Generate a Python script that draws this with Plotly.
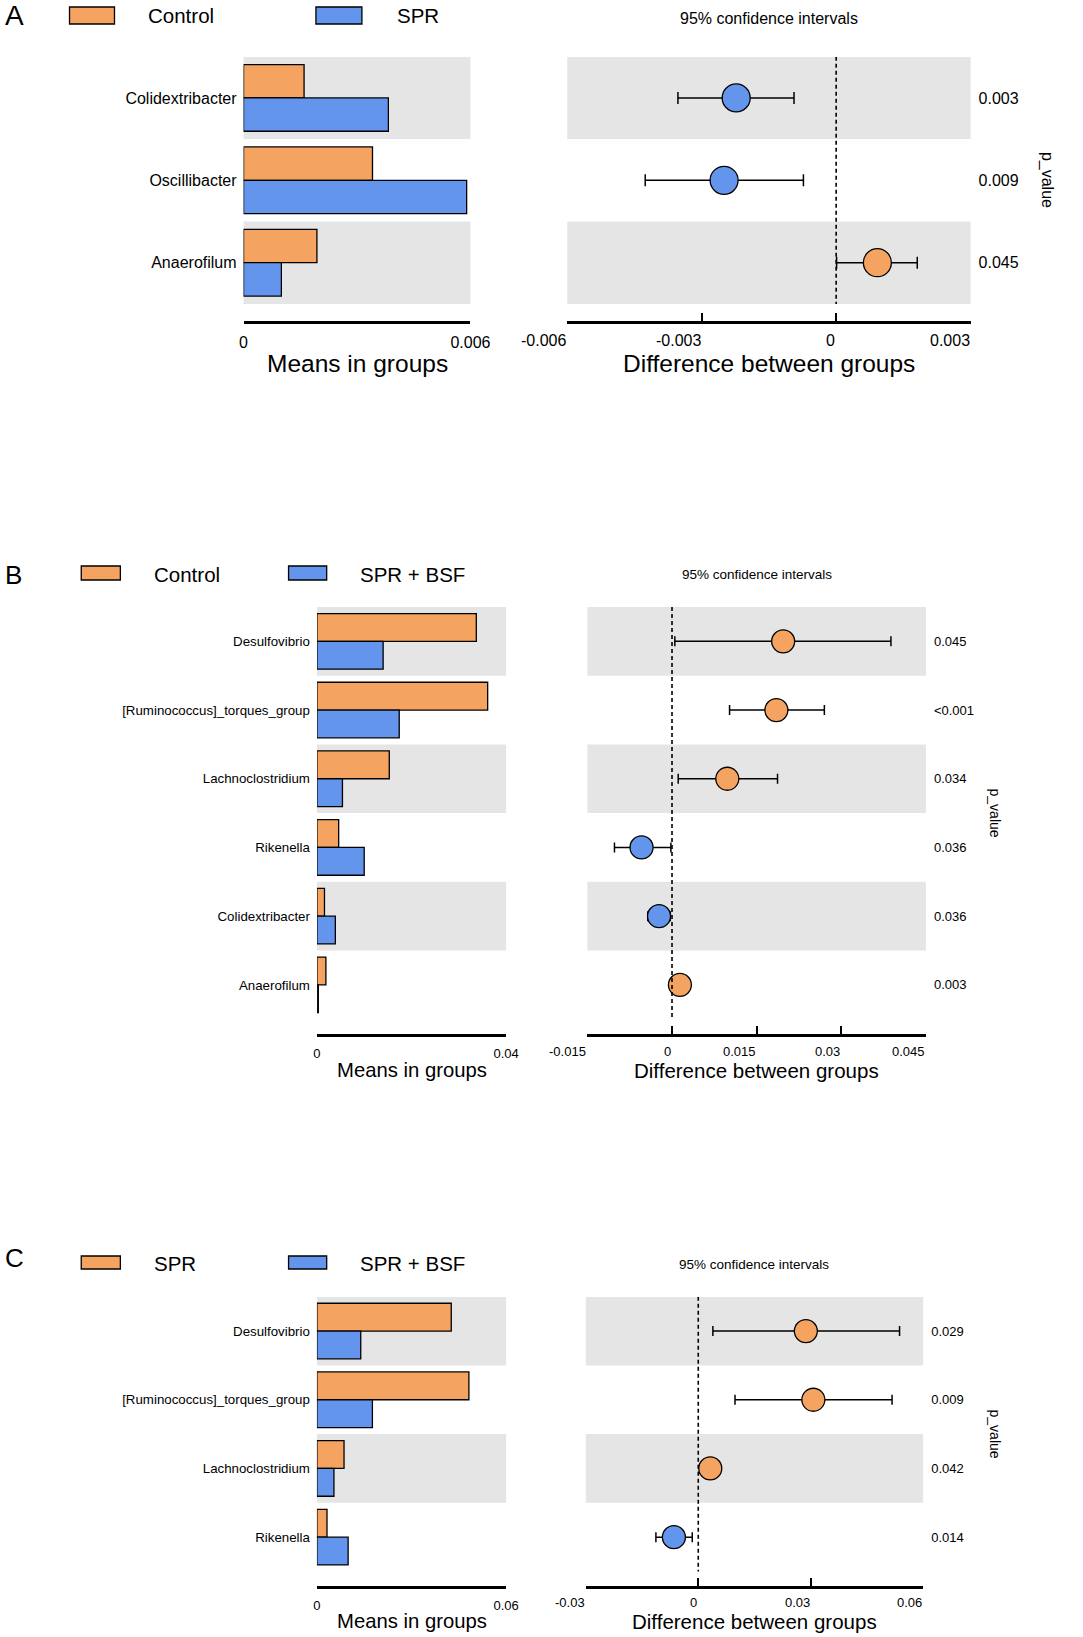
import plotly.graph_objects as go

W, H = 1083, 1637
FONT = "Liberation Sans, Arial, sans-serif"
ORANGE = "#F4A460"
BLUE = "#6495ED"
GRAY = "#E5E5E5"

# ---- panel A data ----
a_taxa = ["Colidextribacter", "Oscillibacter", "Anaerofilum"]
a_groups = ["Control", "SPR"]
a_mean_1 = [0.0016, 0.00341, 0.00194]
a_mean_2 = [0.00383, 0.0059, 0.0010]
a_diff = [-0.00223, -0.0025, 0.00092]
a_low = [-0.00353, -0.00426, 0.00001]
a_high = [-0.00094, -0.00073, 0.00181]
a_p = ["0.003", "0.009", "0.045"]
a_left_ticks = [0, 0.006]
a_left_labels = ["0", "0.006"]
a_right_ticks = [-0.006, -0.003, 0, 0.003]
a_right_labels = ["-0.006", "-0.003", "0", "0.003"]

# ---- panel B data ----
b_taxa = ["Desulfovibrio", "[Ruminococcus]_torques_group", "Lachnoclostridium",
          "Rikenella", "Colidextribacter", "Anaerofilum"]
b_groups = ["Control", "SPR + BSF"]
b_mean_1 = [0.0337, 0.0361, 0.0153, 0.0046, 0.0016, 0.0019]
b_mean_2 = [0.0140, 0.0174, 0.0054, 0.0100, 0.0039, 0.0003]
b_diff = [0.0197, 0.0185, 0.0098, -0.0054, -0.0023, 0.0014]
b_low = [0.0005, 0.0102, 0.0011, -0.0102, -0.0043, 0.0004]
b_high = [0.0388, 0.0270, 0.0187, -0.0002, -0.0003, 0.0031]
b_p = ["0.045", "<0.001", "0.034", "0.036", "0.036", "0.003"]
b_left_ticks = [0, 0.04]
b_left_labels = ["0", "0.04"]
b_right_ticks = [-0.015, 0, 0.015, 0.03, 0.045]
b_right_labels = ["-0.015", "0", "0.015", "0.03", "0.045"]

# ---- panel C data ----
c_taxa = ["Desulfovibrio", "[Ruminococcus]_torques_group", "Lachnoclostridium", "Rikenella"]
c_groups = ["SPR", "SPR + BSF"]
c_mean_1 = [0.0426, 0.0482, 0.0086, 0.0032]
c_mean_2 = [0.0139, 0.0176, 0.0054, 0.0099]
c_diff = [0.0287, 0.0307, 0.0032, -0.0065]
c_low = [0.0039, 0.0098, 0.0004, -0.0113]
c_high = [0.0537, 0.0517, 0.0058, -0.0016]
c_p = ["0.029", "0.009", "0.042", "0.014"]
c_left_ticks = [0, 0.06]
c_left_labels = ["0", "0.06"]
c_right_ticks = [-0.03, 0, 0.03, 0.06]
c_right_labels = ["-0.03", "0", "0.03", "0.06"]


def fx(p):
    return p / W


def fy(p):
    return 1 - p / H


def sfx(i):
    return "" if i == 1 else str(i)


# layout in pixels for each panel
panels = [
    dict(letter="A", taxa=a_taxa, groups=a_groups, m1=a_mean_1, m2=a_mean_2,
         diff=a_diff, lo=a_low, hi=a_high, p=a_p,
         lt=a_left_ticks, ll=a_left_labels, rt=a_right_ticks, rl=a_right_labels,
         lx=(245, 477), rx=(576, 988.5), top=56.7, row=82.4, axis=320.7,
         letter_y=15.5, letter_size=28, box_x=[(67, 113), (319, 366)], box_y=(7, 24),
         text_x=[145, 400], text_y=15, leg_size=20.5, ci_y=18, ci_size=16,
         row_size=16, tick_size=16, tick_y=340.7, pv_x=1066, pv_size=16,
         title_y=363, means_size=24.5, diff_size=24.5, marker=28, cap=6),
    dict(letter="B", taxa=b_taxa, groups=b_groups, m1=b_mean_1, m2=b_mean_2,
         diff=b_diff, lo=b_low, hi=b_high, p=b_p,
         lt=b_left_ticks, ll=b_left_labels, rt=b_right_ticks, rl=b_right_labels,
         lx=(320, 513.5), rx=(596.6, 942.8), top=607, row=68.7, axis=1034,
         letter_y=575, letter_size=26, box_x=[(79, 119), (291, 330)], box_y=(566, 580),
         text_x=[151, 362], text_y=574, leg_size=20.5, ci_y=574, ci_size=13.5,
         row_size=13.3, tick_size=13, tick_y=1051, pv_x=1013, pv_size=14,
         title_y=1070, means_size=20.3, diff_size=20.5, marker=23, cap=5),
    dict(letter="C", taxa=c_taxa, groups=c_groups, m1=c_mean_1, m2=c_mean_2,
         diff=c_diff, lo=c_low, hi=c_high, p=c_p,
         lt=c_left_ticks, ll=c_left_labels, rt=c_right_ticks, rl=c_right_labels,
         lx=(320, 513.5), rx=(595, 940), top=1296.7, row=68.7, axis=1586,
         letter_y=1258, letter_size=26, box_x=[(79, 119), (291, 330)], box_y=(1256, 1269),
         text_x=[151, 362], text_y=1263, leg_size=20.5, ci_y=1264, ci_size=13.5,
         row_size=13.3, tick_size=13, tick_y=1602, pv_x=1013, pv_size=14,
         title_y=1621, means_size=20.3, diff_size=20.5, marker=23, cap=5),
]

fig = go.Figure()
# width left to autosize so the figure fills the page width
layout = dict(height=H, autosize=True, margin=dict(l=0, r=0, t=0, b=0, pad=0),
              paper_bgcolor="white", plot_bgcolor="white", showlegend=False,
              barmode="group", bargap=0.19, bargroupgap=0,
              font=dict(family=FONT, color="black"))
shapes = []
annotations = []

for k, pn in enumerate(panels):
    li, ri = 2 * k + 1, 2 * k + 2
    lxa, lya = "x" + sfx(li), "y" + sfx(li)
    rxa, rya = "x" + sfx(ri), "y" + sfx(ri)
    n = len(pn["taxa"])
    gap = (pn["axis"] - (pn["top"] + n * pn["row"])) / pn["row"]
    yrange = [n - 0.5 + gap, -0.5]
    ydom = [fy(pn["axis"]), fy(pn["top"])]

    # bars: means in groups
    fig.add_trace(go.Bar(x=pn["m1"], y=pn["taxa"], orientation="h", name=pn["groups"][0],
                         marker=dict(color=ORANGE, line=dict(color="black", width=1.3)),
                         xaxis=lxa, yaxis=lya))
    fig.add_trace(go.Bar(x=pn["m2"], y=pn["taxa"], orientation="h", name=pn["groups"][1],
                         marker=dict(color=BLUE, line=dict(color="black", width=1.3)),
                         xaxis=lxa, yaxis=lya))

    # difference with 95% CI
    colors = [ORANGE if d > 0 else BLUE for d in pn["diff"]]
    fig.add_trace(go.Scatter(
        x=pn["diff"], y=pn["taxa"], mode="markers",
        marker=dict(size=pn["marker"], color=colors, line=dict(color="black", width=1.3)),
        error_x=dict(type="data", symmetric=False,
                     array=[h - d for h, d in zip(pn["hi"], pn["diff"])],
                     arrayminus=[d - l for d, l in zip(pn["diff"], pn["lo"])],
                     color="black", thickness=1.5, width=pn["cap"]),
        xaxis=rxa, yaxis=rya))

    axis_common = dict(showgrid=False, zeroline=False, showline=True, linecolor="black",
                       linewidth=2.8, ticks="inside", ticklen=8, tickwidth=1.5,
                       tickcolor="black")
    layout["xaxis" + sfx(li)] = dict(axis_common, domain=[fx(pn["lx"][0]), fx(pn["lx"][1])],
                                     anchor=lya, range=[pn["lt"][0], pn["lt"][-1]],
                                     tickvals=pn["lt"], ticktext=pn["ll"],
                                     tickfont=dict(size=pn["tick_size"]), ticklabelstandoff=5)
    layout["xaxis" + sfx(ri)] = dict(axis_common, domain=[fx(pn["rx"][0]), fx(pn["rx"][1])],
                                     anchor=rya, range=[pn["rt"][0], pn["rt"][-1]],
                                     tickvals=pn["rt"], showticklabels=False)
    ycommon = dict(domain=ydom, range=yrange, type="category", categoryorder="array",
                   categoryarray=pn["taxa"], showgrid=False, zeroline=False,
                   showline=False, ticks="")
    layout["yaxis" + sfx(li)] = dict(ycommon, anchor=lxa, tickfont=dict(size=pn["row_size"]),
                                     ticklabelstandoff=6)
    layout["yaxis" + sfx(ri)] = dict(ycommon, anchor=rxa, side="right",
                                     tickvals=pn["taxa"], ticktext=pn["p"],
                                     tickfont=dict(size=pn["tick_size"]), ticklabelstandoff=7)

    # shaded alternate rows
    for i in range(0, n, 2):
        for xa, ya in ((lxa, lya), (rxa, rya)):
            shapes.append(dict(type="rect", xref=xa + " domain", yref=ya, x0=0, x1=1,
                               y0=i - 0.5, y1=i + 0.5, fillcolor=GRAY,
                               line=dict(width=0), layer="below"))
    # zero line
    shapes.append(dict(type="line", xref=rxa, yref=rya, x0=0, x1=0, y0=-0.5, y1=n - 0.5,
                       line=dict(color="black", width=1.6, dash="4px,3px")))

    # right axis tick labels, right aligned to the ticks
    for v, t in zip(pn["rt"], pn["rl"]):
        annotations.append(dict(x=v, xref=rxa, y=fy(pn["tick_y"]), yref="paper", text=t,
                                showarrow=False, xanchor="right", yanchor="middle",
                                xshift=1, font=dict(size=pn["tick_size"])))

    # axis titles
    annotations.append(dict(x=0.5, xref=lxa + " domain", y=fy(pn["title_y"]), yref="paper",
                            text="Means in groups", showarrow=False, xanchor="center",
                            yanchor="middle", font=dict(size=pn["means_size"])))
    annotations.append(dict(x=0.5, xref=rxa + " domain", y=fy(pn["title_y"]), yref="paper",
                            text="Difference between groups", showarrow=False,
                            xanchor="center", yanchor="middle",
                            font=dict(size=pn["diff_size"])))
    annotations.append(dict(x=0.5, xref=rxa + " domain", y=fy(pn["ci_y"]), yref="paper",
                            text="95% confidence intervals", showarrow=False,
                            xanchor="center", yanchor="middle",
                            font=dict(size=pn["ci_size"])))
    # p_value side label
    mid = pn["top"] + n * pn["row"] / 2
    annotations.append(dict(x=fx(pn["pv_x"]), xref="paper", y=fy(mid), yref="paper",
                            text="p_value", showarrow=False, textangle=90,
                            xanchor="center", yanchor="middle",
                            font=dict(size=pn["pv_size"])))
    # panel letter
    annotations.append(dict(x=0, xref="paper", y=fy(pn["letter_y"]), yref="paper",
                            text=pn["letter"], showarrow=False, xanchor="left", xshift=-1,
                            yanchor="middle", font=dict(size=pn["letter_size"])))
    # legend
    for (x0, x1), tx, g, col in zip(pn["box_x"], pn["text_x"], pn["groups"], [ORANGE, BLUE]):
        shapes.append(dict(type="rect", xref="paper", yref="paper",
                           x0=fx(x0), x1=fx(x1), y0=fy(pn["box_y"][1]), y1=fy(pn["box_y"][0]),
                           fillcolor=col, line=dict(color="black", width=1.3)))
        annotations.append(dict(x=fx(tx), xref="paper", y=fy(pn["text_y"]), yref="paper",
                                text=g, showarrow=False, xanchor="left", yanchor="middle",
                                font=dict(size=pn["leg_size"])))

layout["shapes"] = shapes
layout["annotations"] = annotations
fig.update_layout(**layout)
# page body margin would otherwise push the figure off the window
fig.write_html("out.html", config={"displayModeBar": False},
               default_width="100%", default_height="%dpx" % H,
               post_script="document.body.style.margin='0';document.body.style.overflow='hidden';"
                           "Plotly.Plots.resize(document.getElementsByClassName('plotly-graph-div')[0]);")
